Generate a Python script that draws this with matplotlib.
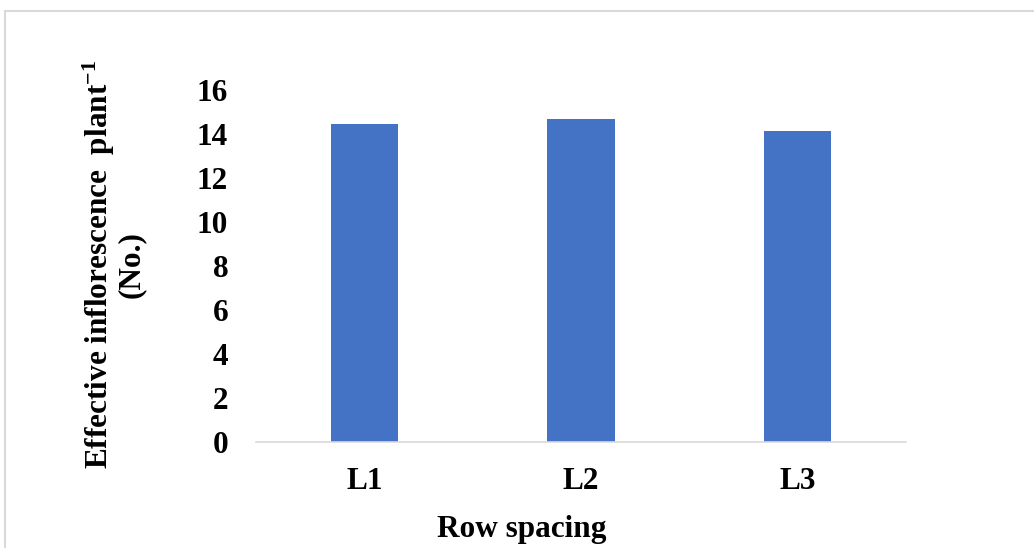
import matplotlib
matplotlib.use("Agg")
import matplotlib.pyplot as plt
from matplotlib.lines import Line2D

# data
categories = ["L1", "L2", "L3"]
values = [14.45, 14.67, 14.15]
y_ticks = [0, 2, 4, 6, 8, 10, 12, 14, 16]

plt.rcParams['font.family'] = ['Liberation Serif', 'DejaVu Serif']
plt.rcParams['font.weight'] = 'bold'
plt.rcParams['mathtext.fontset'] = 'custom'
plt.rcParams['mathtext.rm'] = 'Liberation Serif:bold'
plt.rcParams['mathtext.default'] = 'rm'

FS = 22.5
W, H = 1034, 548
fig = plt.figure(figsize=(W / 100, H / 100), dpi=100)
ax = fig.add_axes([256 / W, 1 - 442 / H, 650 / W, 352 / H])

x = list(range(len(categories)))
ax.bar(x, values, width=0.31, color="#4472C4", zorder=2)

ax.set_xlim(-0.5, len(categories) - 0.5)
ax.set_ylim(0, 16)
ax.set_yticks(y_ticks)
ax.set_xticks(x)
ax.set_xticklabels(categories)

for side in ["top", "right", "left"]:
    ax.spines[side].set_visible(False)
ax.spines["bottom"].set_color("#d9d9d9")
ax.spines["bottom"].set_linewidth(1.2)

ax.tick_params(axis="both", length=0, labelsize=FS)
ax.tick_params(axis="y", pad=20)
ax.tick_params(axis="x", pad=18)
for lab in ax.get_xticklabels() + ax.get_yticklabels():
    lab.set_fontweight("bold")

ax.set_xlabel("Row spacing", fontsize=FS, fontweight="bold")
ax.xaxis.set_label_coords((522 - 256) / 650, -0.206)

fig.text(113 / W, 1 - 265 / H,
         "Effective inflorescence  plant$^{-1}$\n(No.)",
         rotation=90, ha="center", va="center", multialignment="center",
         fontsize=FS, fontweight="bold", linespacing=1.0)

# light chart-area border (top and left edges visible)
border = "#d9d9d9"
fig.add_artist(Line2D([5 / W, 1], [1 - 11 / H, 1 - 11 / H], color=border, lw=1.5))
fig.add_artist(Line2D([5 / W, 5 / W], [0, 1 - 11 / H], color=border, lw=1.5))

fig.savefig("out.png", dpi=100)
